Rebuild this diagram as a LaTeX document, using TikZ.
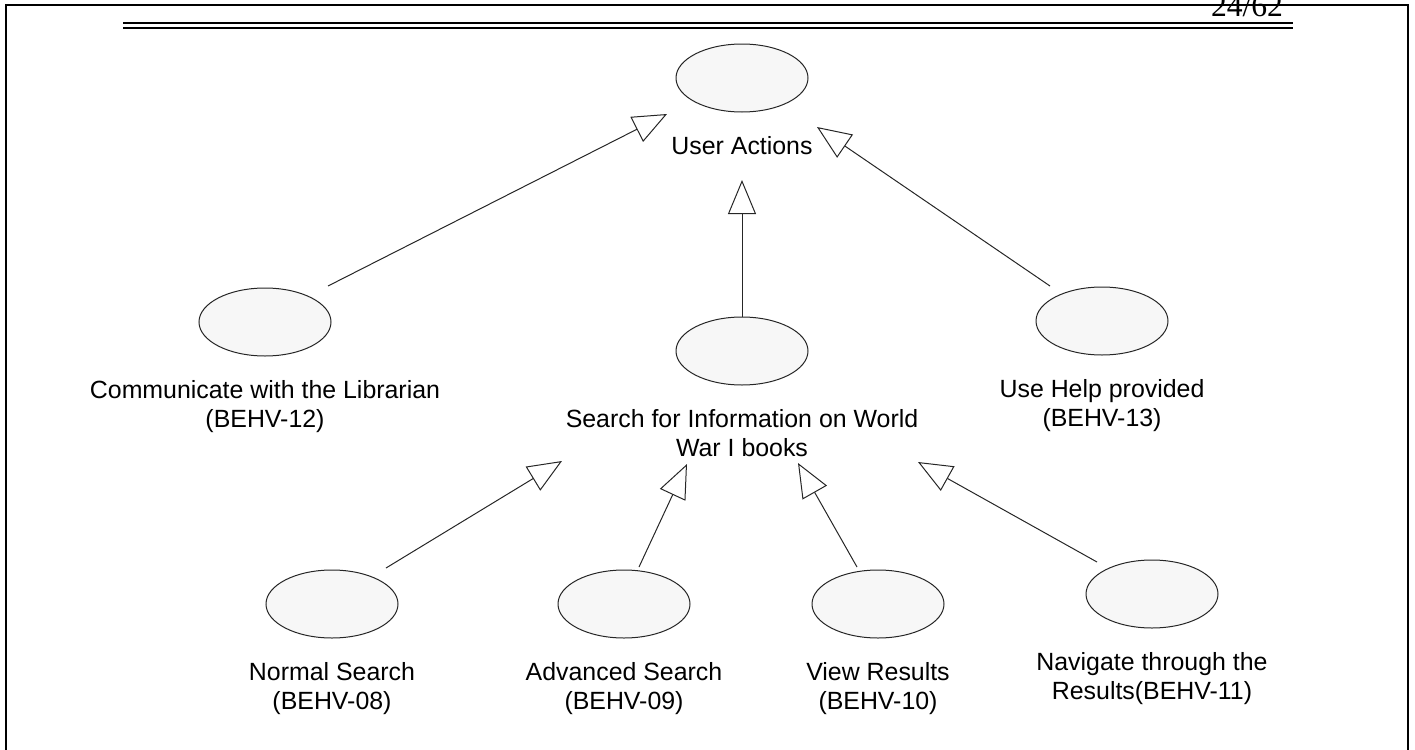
\documentclass[tikz,border=0pt]{standalone}
\usepackage{fontspec}
\setmainfont{Liberation Sans}
\newfontfamily\pagefont{Liberation Serif}
\usetikzlibrary{arrows.meta,positioning,shapes.geometric}

\begin{document}
\begin{tikzpicture}[x=0.5pt,y=-0.5pt]
\tikzstyle{usecase} = [ellipse, draw=black!85, fill=black!3, line width=0.5pt,
minimum width=66pt, minimum height=34pt, inner sep=0pt]
\tikzstyle{caption} = [align=center, inner sep=0pt,
font=\fontsize{12.45}{14.5}\selectfont]
\tikzstyle{gen} = [draw=black!85, line width=0.5pt,
-{Triangle[open,length=17pt,width=14pt]}]

\useasboundingbox (0,0) rectangle (1415,750);
% page frame and header
\draw[line width=1pt] (6,750) -- (6,5) -- (1408,5) -- (1408,750);
\draw[line width=1pt] (123,22.5) -- (1293,22.5);
\draw[line width=1pt] (123,28) -- (1293,28);
\node[anchor=base, inner sep=0pt, font=\pagefont\fontsize{15.8}{18}\selectfont]
  (page) at (1247,16) {24/62};

% level 1
\node[usecase] (actions) at (742,78) {};
\node[caption, below=12pt of actions] (actionsl) {User Actions};
% level 2
\node[usecase] (comm) at (265,322) {};
\node[caption, below=12pt of comm] (comml) {Communicate with the Librarian\\(BEHV-12)};
\node[usecase] (search) at (742,351) {};
\node[caption, below=12pt of search] (searchl) {Search for Information on World\\War I books};
\node[usecase] (help) at (1102,321) {};
\node[caption, below=12pt of help] (helpl) {Use Help provided\\(BEHV-13)};
% level 3
\node[usecase] (normal) at (332,604) {};
\node[caption, below=12pt of normal] (normall) {Normal Search\\(BEHV-08)};
\node[usecase] (advanced) at (624,604) {};
\node[caption, below=12pt of advanced] (advancedl) {Advanced Search\\(BEHV-09)};
\node[usecase] (view) at (878,604) {};
\node[caption, below=12pt of view] (viewl) {View Results\\(BEHV-10)};
\node[usecase] (navigate) at (1152,594) {};
\node[caption, below=12pt of navigate] (navigatel) {Navigate through the\\Results(BEHV-11)};

% connector ends
\coordinate (comm-out) at (328,286);
\coordinate (help-out) at (1050,286);
\coordinate (normal-out) at (386,568);
\coordinate (advanced-out) at (639,567);
\coordinate (view-out) at (857,567);
\coordinate (navigate-out) at (1097,562);
\coordinate (actions-w) at (667,114);
\coordinate (actions-s) at (742,180);
\coordinate (actions-e) at (817,127);
\coordinate (search-w) at (562,461);
\coordinate (search-sw) at (687,464);
\coordinate (search-se) at (798,463);
\coordinate (search-e) at (918,462);

\path[gen] (comm-out) -- (actions-w);
\path[gen] (search.north) -- (actions-s);
\path[gen] (help-out) -- (actions-e);
\path[gen] (normal-out) -- (search-w);
\path[gen] (advanced-out) -- (search-sw);
\path[gen] (view-out) -- (search-se);
\path[gen] (navigate-out) -- (search-e);

\end{tikzpicture}
\end{document}
